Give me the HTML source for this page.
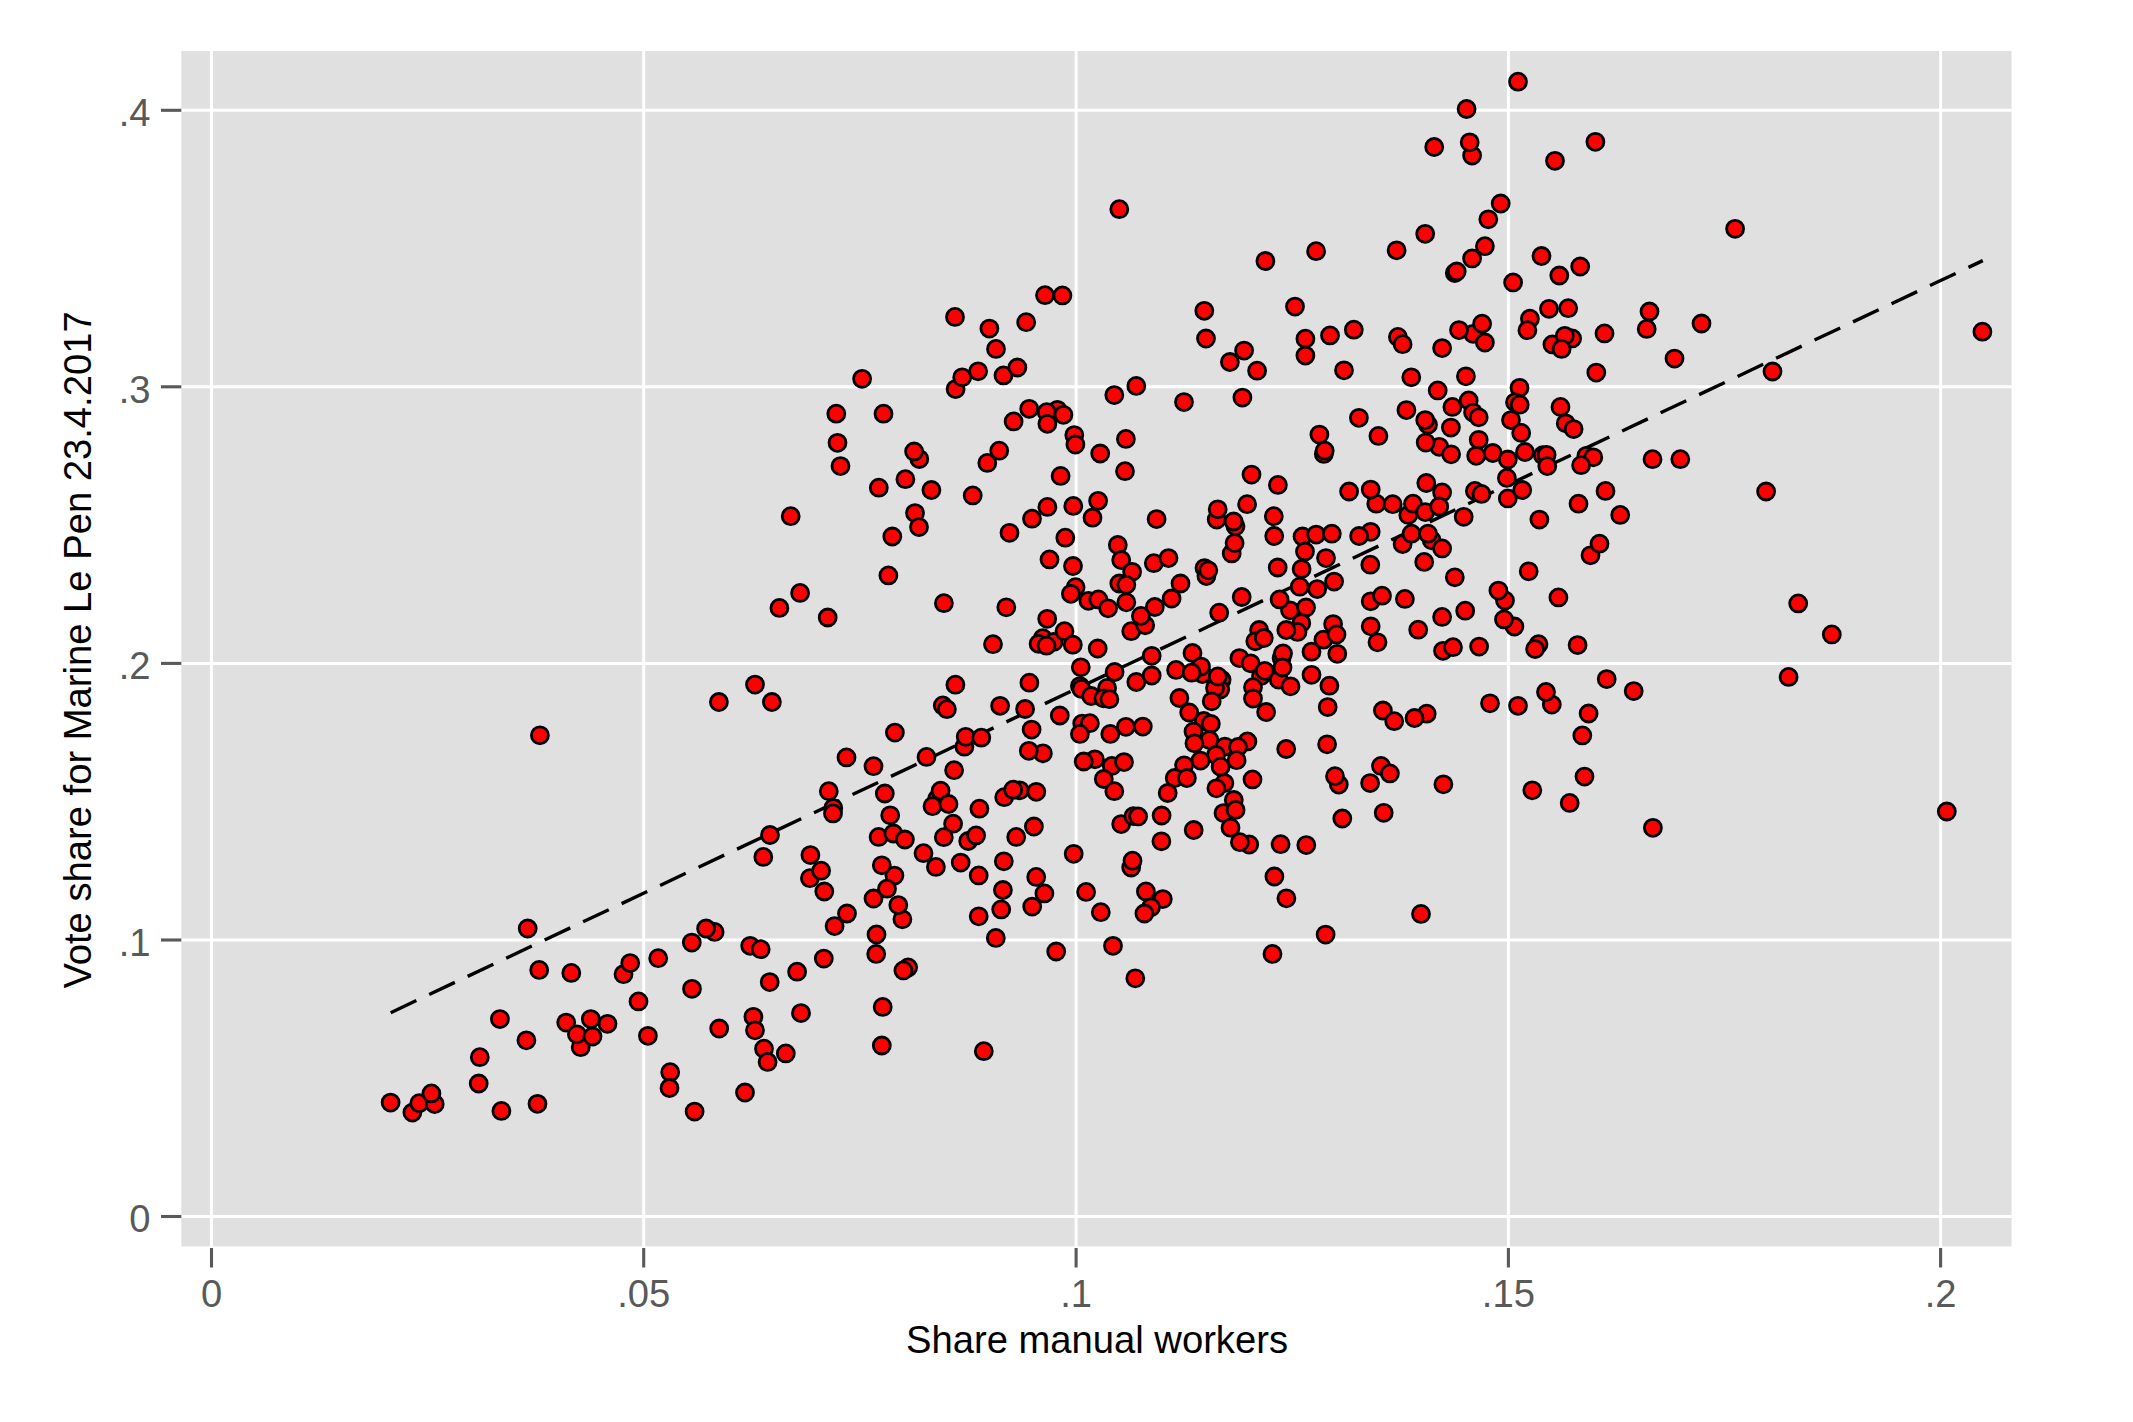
<!DOCTYPE html>
<html><head><meta charset="utf-8"><title>Scatter</title>
<style>html,body{margin:0;padding:0;background:#fff}svg{display:block}text{font-family:"Liberation Sans",Arial,Helvetica,sans-serif}</style></head>
<body>
<svg width="2133" height="1422" viewBox="0 0 2133 1422">
<rect x="0" y="0" width="2133" height="1422" fill="#ffffff"/>
<rect x="181.3" y="51" width="1830.2" height="1195.4" fill="#e0e0e0"/>
<g stroke="#ffffff" stroke-width="3">
<line x1="181.3" y1="1216.5" x2="2011.5" y2="1216.5"/>
<line x1="181.3" y1="940.0" x2="2011.5" y2="940.0"/>
<line x1="181.3" y1="663.4" x2="2011.5" y2="663.4"/>
<line x1="181.3" y1="386.8" x2="2011.5" y2="386.8"/>
<line x1="181.3" y1="110.3" x2="2011.5" y2="110.3"/>
<line x1="211.5" y1="51" x2="211.5" y2="1246.4"/>
<line x1="643.7" y1="51" x2="643.7" y2="1246.4"/>
<line x1="1076.1" y1="51" x2="1076.1" y2="1246.4"/>
<line x1="1508.4" y1="51" x2="1508.4" y2="1246.4"/>
<line x1="1940.6" y1="51" x2="1940.6" y2="1246.4"/>
</g>
<g stroke="#595959" stroke-width="3.1">
<line x1="161" y1="1216.5" x2="181.3" y2="1216.5"/>
<line x1="161" y1="940.0" x2="181.3" y2="940.0"/>
<line x1="161" y1="663.4" x2="181.3" y2="663.4"/>
<line x1="161" y1="386.8" x2="181.3" y2="386.8"/>
<line x1="161" y1="110.3" x2="181.3" y2="110.3"/>
<line x1="211.5" y1="1248" x2="211.5" y2="1267.5"/>
<line x1="643.7" y1="1248" x2="643.7" y2="1267.5"/>
<line x1="1076.1" y1="1248" x2="1076.1" y2="1267.5"/>
<line x1="1508.4" y1="1248" x2="1508.4" y2="1267.5"/>
<line x1="1940.6" y1="1248" x2="1940.6" y2="1267.5"/>
</g>
<g fill="#595959" font-size="38.2px">
<text x="211.5" y="1307" text-anchor="middle">0</text>
<text x="643.7" y="1307" text-anchor="middle">.05</text>
<text x="1076.1" y="1307" text-anchor="middle">.1</text>
<text x="1508.4" y="1307" text-anchor="middle">.15</text>
<text x="1940.6" y="1307" text-anchor="middle">.2</text>
<text x="150.5" y="1232.2" text-anchor="end">0</text>
<text x="150.5" y="955.7" text-anchor="end">.1</text>
<text x="150.5" y="679.1" text-anchor="end">.2</text>
<text x="150.5" y="402.5" text-anchor="end">.3</text>
<text x="150.5" y="126.0" text-anchor="end">.4</text>
</g>
<g fill="#000000" font-size="38.2px">
<text x="1097" y="1353.3" text-anchor="middle">Share manual workers</text>
<text transform="translate(91.4,650) rotate(-90)" text-anchor="middle">Vote share for Marine Le Pen 23.4.2017</text>
</g>
<line x1="390.7" y1="1012.7" x2="1982.8" y2="260.6" stroke="#000" stroke-width="3.4" stroke-dasharray="28.37 14.19"/>
<g fill="#ff0000" stroke="#000000" stroke-width="2.8">
<circle cx="390.6" cy="1102.6" r="8.5"/>
<circle cx="412.4" cy="1112.6" r="8.5"/>
<circle cx="419.3" cy="1103.2" r="8.5"/>
<circle cx="434.7" cy="1104.1" r="8.5"/>
<circle cx="431.4" cy="1093.4" r="8.5"/>
<circle cx="478.7" cy="1083.5" r="8.5"/>
<circle cx="479.8" cy="1057.2" r="8.5"/>
<circle cx="499.9" cy="1019.1" r="8.5"/>
<circle cx="501.4" cy="1110.9" r="8.5"/>
<circle cx="526.4" cy="1040.3" r="8.5"/>
<circle cx="527.7" cy="928.5" r="8.5"/>
<circle cx="537.5" cy="1103.8" r="8.5"/>
<circle cx="539.2" cy="969.9" r="8.5"/>
<circle cx="571.3" cy="972.9" r="8.5"/>
<circle cx="566.2" cy="1022.6" r="8.5"/>
<circle cx="580.7" cy="1047.2" r="8.5"/>
<circle cx="576.9" cy="1034.3" r="8.5"/>
<circle cx="592.5" cy="1036.5" r="8.5"/>
<circle cx="590.8" cy="1019.1" r="8.5"/>
<circle cx="607.5" cy="1023.8" r="8.5"/>
<circle cx="623.5" cy="974.2" r="8.5"/>
<circle cx="630.2" cy="963.1" r="8.5"/>
<circle cx="638.5" cy="1001.4" r="8.5"/>
<circle cx="647.9" cy="1035.8" r="8.5"/>
<circle cx="658.2" cy="958.2" r="8.5"/>
<circle cx="670.2" cy="1072.2" r="8.5"/>
<circle cx="669.5" cy="1088.0" r="8.5"/>
<circle cx="691.8" cy="942.6" r="8.5"/>
<circle cx="692.0" cy="988.8" r="8.5"/>
<circle cx="694.6" cy="1111.6" r="8.5"/>
<circle cx="714.6" cy="931.9" r="8.5"/>
<circle cx="706.1" cy="928.5" r="8.5"/>
<circle cx="719.2" cy="1028.5" r="8.5"/>
<circle cx="745.0" cy="1092.5" r="8.5"/>
<circle cx="750.2" cy="945.8" r="8.5"/>
<circle cx="753.4" cy="1016.8" r="8.5"/>
<circle cx="760.7" cy="949.2" r="8.5"/>
<circle cx="755.0" cy="1030.3" r="8.5"/>
<circle cx="764.0" cy="1048.7" r="8.5"/>
<circle cx="767.6" cy="1061.9" r="8.5"/>
<circle cx="785.8" cy="1053.4" r="8.5"/>
<circle cx="769.7" cy="982.1" r="8.5"/>
<circle cx="797.1" cy="971.7" r="8.5"/>
<circle cx="801.0" cy="1013.1" r="8.5"/>
<circle cx="823.8" cy="958.6" r="8.5"/>
<circle cx="809.9" cy="878.2" r="8.5"/>
<circle cx="821.1" cy="870.7" r="8.5"/>
<circle cx="824.3" cy="891.5" r="8.5"/>
<circle cx="834.6" cy="926.1" r="8.5"/>
<circle cx="847.0" cy="913.5" r="8.5"/>
<circle cx="873.5" cy="898.5" r="8.5"/>
<circle cx="894.4" cy="875.6" r="8.5"/>
<circle cx="887.0" cy="888.7" r="8.5"/>
<circle cx="881.8" cy="865.3" r="8.5"/>
<circle cx="902.4" cy="919.3" r="8.5"/>
<circle cx="898.3" cy="905.1" r="8.5"/>
<circle cx="876.5" cy="934.4" r="8.5"/>
<circle cx="876.2" cy="953.9" r="8.5"/>
<circle cx="908.1" cy="967.4" r="8.5"/>
<circle cx="903.4" cy="970.4" r="8.5"/>
<circle cx="882.7" cy="1006.9" r="8.5"/>
<circle cx="881.8" cy="1045.5" r="8.5"/>
<circle cx="935.9" cy="866.9" r="8.5"/>
<circle cx="978.7" cy="875.4" r="8.5"/>
<circle cx="978.7" cy="916.3" r="8.5"/>
<circle cx="1002.9" cy="890.0" r="8.5"/>
<circle cx="1001.2" cy="909.4" r="8.5"/>
<circle cx="995.8" cy="937.9" r="8.5"/>
<circle cx="983.8" cy="1051.2" r="8.5"/>
<circle cx="1036.2" cy="876.9" r="8.5"/>
<circle cx="1044.4" cy="893.4" r="8.5"/>
<circle cx="1032.2" cy="906.6" r="8.5"/>
<circle cx="1056.2" cy="951.5" r="8.5"/>
<circle cx="1086.1" cy="891.9" r="8.5"/>
<circle cx="1100.8" cy="912.2" r="8.5"/>
<circle cx="1113.0" cy="945.8" r="8.5"/>
<circle cx="1131.2" cy="867.5" r="8.5"/>
<circle cx="1135.3" cy="978.3" r="8.5"/>
<circle cx="1162.8" cy="899.1" r="8.5"/>
<circle cx="1145.9" cy="891.4" r="8.5"/>
<circle cx="1151.0" cy="907.3" r="8.5"/>
<circle cx="1144.4" cy="913.5" r="8.5"/>
<circle cx="1274.4" cy="876.5" r="8.5"/>
<circle cx="1286.4" cy="898.3" r="8.5"/>
<circle cx="1421.0" cy="913.9" r="8.5"/>
<circle cx="1325.6" cy="934.6" r="8.5"/>
<circle cx="1272.5" cy="953.9" r="8.5"/>
<circle cx="539.9" cy="735.3" r="8.5"/>
<circle cx="718.9" cy="702.0" r="8.5"/>
<circle cx="827.7" cy="617.5" r="8.5"/>
<circle cx="1047.2" cy="618.8" r="8.5"/>
<circle cx="1042.7" cy="638.2" r="8.5"/>
<circle cx="1038.6" cy="643.8" r="8.5"/>
<circle cx="1053.6" cy="641.9" r="8.5"/>
<circle cx="1046.5" cy="645.7" r="8.5"/>
<circle cx="1064.5" cy="631.2" r="8.5"/>
<circle cx="1072.8" cy="644.7" r="8.5"/>
<circle cx="993.0" cy="644.2" r="8.5"/>
<circle cx="1097.7" cy="648.5" r="8.5"/>
<circle cx="1131.2" cy="631.2" r="8.5"/>
<circle cx="1080.8" cy="667.3" r="8.5"/>
<circle cx="1114.6" cy="672.0" r="8.5"/>
<circle cx="755.0" cy="684.6" r="8.5"/>
<circle cx="771.9" cy="702.0" r="8.5"/>
<circle cx="955.4" cy="684.7" r="8.5"/>
<circle cx="942.8" cy="705.4" r="8.5"/>
<circle cx="946.9" cy="709.2" r="8.5"/>
<circle cx="1000.1" cy="705.8" r="8.5"/>
<circle cx="1029.4" cy="682.7" r="8.5"/>
<circle cx="1025.1" cy="709.0" r="8.5"/>
<circle cx="1059.8" cy="715.5" r="8.5"/>
<circle cx="1079.9" cy="686.1" r="8.5"/>
<circle cx="1081.4" cy="688.9" r="8.5"/>
<circle cx="1091.2" cy="696.0" r="8.5"/>
<circle cx="1107.1" cy="687.9" r="8.5"/>
<circle cx="1103.4" cy="698.3" r="8.5"/>
<circle cx="1109.4" cy="699.2" r="8.5"/>
<circle cx="894.9" cy="732.6" r="8.5"/>
<circle cx="1031.6" cy="729.6" r="8.5"/>
<circle cx="964.4" cy="746.7" r="8.5"/>
<circle cx="965.7" cy="736.8" r="8.5"/>
<circle cx="981.3" cy="737.7" r="8.5"/>
<circle cx="1082.2" cy="723.6" r="8.5"/>
<circle cx="1089.9" cy="723.2" r="8.5"/>
<circle cx="1079.9" cy="733.9" r="8.5"/>
<circle cx="1110.3" cy="733.9" r="8.5"/>
<circle cx="1125.9" cy="726.8" r="8.5"/>
<circle cx="846.5" cy="757.4" r="8.5"/>
<circle cx="873.5" cy="766.2" r="8.5"/>
<circle cx="926.5" cy="756.9" r="8.5"/>
<circle cx="954.1" cy="770.2" r="8.5"/>
<circle cx="1042.9" cy="753.3" r="8.5"/>
<circle cx="1028.8" cy="750.8" r="8.5"/>
<circle cx="1094.9" cy="759.3" r="8.5"/>
<circle cx="1083.7" cy="761.5" r="8.5"/>
<circle cx="1111.8" cy="765.9" r="8.5"/>
<circle cx="1124.0" cy="762.1" r="8.5"/>
<circle cx="1103.8" cy="779.0" r="8.5"/>
<circle cx="1114.3" cy="791.2" r="8.5"/>
<circle cx="828.8" cy="791.2" r="8.5"/>
<circle cx="884.8" cy="793.5" r="8.5"/>
<circle cx="937.2" cy="798.7" r="8.5"/>
<circle cx="932.5" cy="806.2" r="8.5"/>
<circle cx="940.6" cy="790.7" r="8.5"/>
<circle cx="948.5" cy="804.0" r="8.5"/>
<circle cx="1004.2" cy="797.2" r="8.5"/>
<circle cx="1019.8" cy="790.3" r="8.5"/>
<circle cx="1013.2" cy="789.7" r="8.5"/>
<circle cx="1036.3" cy="791.8" r="8.5"/>
<circle cx="979.4" cy="808.7" r="8.5"/>
<circle cx="833.3" cy="808.1" r="8.5"/>
<circle cx="833.0" cy="813.4" r="8.5"/>
<circle cx="890.2" cy="815.3" r="8.5"/>
<circle cx="953.1" cy="823.7" r="8.5"/>
<circle cx="1033.9" cy="826.5" r="8.5"/>
<circle cx="1121.2" cy="824.1" r="8.5"/>
<circle cx="1133.4" cy="816.2" r="8.5"/>
<circle cx="770.0" cy="835.0" r="8.5"/>
<circle cx="878.6" cy="836.9" r="8.5"/>
<circle cx="893.4" cy="833.5" r="8.5"/>
<circle cx="904.9" cy="839.5" r="8.5"/>
<circle cx="943.8" cy="837.2" r="8.5"/>
<circle cx="968.2" cy="841.0" r="8.5"/>
<circle cx="976.1" cy="835.4" r="8.5"/>
<circle cx="1016.2" cy="836.9" r="8.5"/>
<circle cx="1073.7" cy="853.8" r="8.5"/>
<circle cx="763.3" cy="856.9" r="8.5"/>
<circle cx="810.4" cy="855.1" r="8.5"/>
<circle cx="923.5" cy="853.2" r="8.5"/>
<circle cx="960.7" cy="862.6" r="8.5"/>
<circle cx="1003.8" cy="861.3" r="8.5"/>
<circle cx="1132.5" cy="860.7" r="8.5"/>
<circle cx="1311.5" cy="651.7" r="8.5"/>
<circle cx="1323.4" cy="639.7" r="8.5"/>
<circle cx="1333.1" cy="624.1" r="8.5"/>
<circle cx="1336.5" cy="634.4" r="8.5"/>
<circle cx="1337.3" cy="653.8" r="8.5"/>
<circle cx="1370.7" cy="626.3" r="8.5"/>
<circle cx="1377.5" cy="642.3" r="8.5"/>
<circle cx="1418.2" cy="629.7" r="8.5"/>
<circle cx="1442.1" cy="616.9" r="8.5"/>
<circle cx="1443.0" cy="650.8" r="8.5"/>
<circle cx="1453.0" cy="647.2" r="8.5"/>
<circle cx="1479.1" cy="646.6" r="8.5"/>
<circle cx="1514.4" cy="626.5" r="8.5"/>
<circle cx="1504.0" cy="619.4" r="8.5"/>
<circle cx="1311.5" cy="674.8" r="8.5"/>
<circle cx="1329.4" cy="685.7" r="8.5"/>
<circle cx="1327.7" cy="707.1" r="8.5"/>
<circle cx="1382.9" cy="710.5" r="8.5"/>
<circle cx="1394.2" cy="721.2" r="8.5"/>
<circle cx="1426.7" cy="713.7" r="8.5"/>
<circle cx="1414.5" cy="718.0" r="8.5"/>
<circle cx="1490.0" cy="703.3" r="8.5"/>
<circle cx="1327.1" cy="744.3" r="8.5"/>
<circle cx="1286.2" cy="749.0" r="8.5"/>
<circle cx="1381.0" cy="765.9" r="8.5"/>
<circle cx="1389.9" cy="773.4" r="8.5"/>
<circle cx="1338.8" cy="784.6" r="8.5"/>
<circle cx="1335.0" cy="776.2" r="8.5"/>
<circle cx="1370.1" cy="783.1" r="8.5"/>
<circle cx="1443.4" cy="784.3" r="8.5"/>
<circle cx="1342.3" cy="818.5" r="8.5"/>
<circle cx="1383.7" cy="812.8" r="8.5"/>
<circle cx="1306.3" cy="845.1" r="8.5"/>
<circle cx="1280.6" cy="844.2" r="8.5"/>
<circle cx="1154.8" cy="607.0" r="8.5"/>
<circle cx="1145.2" cy="625.3" r="8.5"/>
<circle cx="1140.9" cy="615.9" r="8.5"/>
<circle cx="1219.2" cy="612.7" r="8.5"/>
<circle cx="1290.0" cy="610.3" r="8.5"/>
<circle cx="1306.0" cy="607.5" r="8.5"/>
<circle cx="1301.3" cy="623.0" r="8.5"/>
<circle cx="1297.5" cy="631.9" r="8.5"/>
<circle cx="1286.3" cy="630.0" r="8.5"/>
<circle cx="1259.1" cy="630.0" r="8.5"/>
<circle cx="1255.3" cy="641.3" r="8.5"/>
<circle cx="1263.8" cy="638.0" r="8.5"/>
<circle cx="1151.7" cy="655.8" r="8.5"/>
<circle cx="1192.5" cy="653.0" r="8.5"/>
<circle cx="1202.4" cy="674.1" r="8.5"/>
<circle cx="1201.0" cy="666.6" r="8.5"/>
<circle cx="1176.1" cy="669.9" r="8.5"/>
<circle cx="1191.6" cy="672.7" r="8.5"/>
<circle cx="1221.6" cy="679.7" r="8.5"/>
<circle cx="1220.2" cy="689.5" r="8.5"/>
<circle cx="1215.0" cy="688.1" r="8.5"/>
<circle cx="1217.8" cy="676.4" r="8.5"/>
<circle cx="1211.7" cy="701.3" r="8.5"/>
<circle cx="1239.4" cy="658.1" r="8.5"/>
<circle cx="1250.6" cy="663.3" r="8.5"/>
<circle cx="1261.0" cy="675.9" r="8.5"/>
<circle cx="1264.7" cy="670.8" r="8.5"/>
<circle cx="1281.6" cy="658.1" r="8.5"/>
<circle cx="1283.0" cy="653.4" r="8.5"/>
<circle cx="1278.8" cy="679.7" r="8.5"/>
<circle cx="1282.5" cy="667.5" r="8.5"/>
<circle cx="1290.5" cy="686.3" r="8.5"/>
<circle cx="1253.0" cy="687.2" r="8.5"/>
<circle cx="1253.0" cy="698.5" r="8.5"/>
<circle cx="1266.1" cy="712.0" r="8.5"/>
<circle cx="1179.4" cy="698.0" r="8.5"/>
<circle cx="1189.2" cy="712.5" r="8.5"/>
<circle cx="1203.8" cy="721.0" r="8.5"/>
<circle cx="1210.8" cy="723.8" r="8.5"/>
<circle cx="1142.8" cy="726.6" r="8.5"/>
<circle cx="1136.3" cy="682.0" r="8.5"/>
<circle cx="1151.7" cy="675.5" r="8.5"/>
<circle cx="1193.5" cy="731.6" r="8.5"/>
<circle cx="1209.4" cy="740.0" r="8.5"/>
<circle cx="1194.4" cy="743.3" r="8.5"/>
<circle cx="1224.9" cy="746.6" r="8.5"/>
<circle cx="1247.4" cy="741.4" r="8.5"/>
<circle cx="1238.0" cy="747.0" r="8.5"/>
<circle cx="1216.0" cy="755.0" r="8.5"/>
<circle cx="1200.5" cy="760.6" r="8.5"/>
<circle cx="1236.6" cy="760.2" r="8.5"/>
<circle cx="1220.6" cy="766.7" r="8.5"/>
<circle cx="1184.1" cy="765.3" r="8.5"/>
<circle cx="1174.7" cy="778.0" r="8.5"/>
<circle cx="1186.9" cy="778.0" r="8.5"/>
<circle cx="1167.7" cy="793.0" r="8.5"/>
<circle cx="1224.4" cy="783.1" r="8.5"/>
<circle cx="1216.4" cy="788.3" r="8.5"/>
<circle cx="1252.5" cy="779.4" r="8.5"/>
<circle cx="1233.8" cy="800.0" r="8.5"/>
<circle cx="1223.5" cy="813.1" r="8.5"/>
<circle cx="1235.6" cy="809.9" r="8.5"/>
<circle cx="1230.5" cy="827.7" r="8.5"/>
<circle cx="1249.2" cy="844.5" r="8.5"/>
<circle cx="1239.9" cy="842.2" r="8.5"/>
<circle cx="1161.6" cy="815.5" r="8.5"/>
<circle cx="1138.1" cy="816.4" r="8.5"/>
<circle cx="1161.4" cy="841.3" r="8.5"/>
<circle cx="1193.7" cy="830.0" r="8.5"/>
<circle cx="1538.5" cy="644.2" r="8.5"/>
<circle cx="1535.1" cy="649.1" r="8.5"/>
<circle cx="1577.6" cy="645.1" r="8.5"/>
<circle cx="1831.8" cy="634.4" r="8.5"/>
<circle cx="1788.6" cy="676.9" r="8.5"/>
<circle cx="1606.7" cy="679.1" r="8.5"/>
<circle cx="1633.7" cy="691.1" r="8.5"/>
<circle cx="1551.8" cy="704.6" r="8.5"/>
<circle cx="1546.0" cy="691.9" r="8.5"/>
<circle cx="1518.0" cy="705.8" r="8.5"/>
<circle cx="1588.6" cy="713.5" r="8.5"/>
<circle cx="1582.3" cy="735.4" r="8.5"/>
<circle cx="1584.5" cy="776.6" r="8.5"/>
<circle cx="1532.3" cy="790.3" r="8.5"/>
<circle cx="1569.7" cy="802.9" r="8.5"/>
<circle cx="1652.9" cy="827.8" r="8.5"/>
<circle cx="1735.1" cy="228.8" r="8.5"/>
<circle cx="1649.5" cy="311.5" r="8.5"/>
<circle cx="1646.7" cy="328.9" r="8.5"/>
<circle cx="1701.5" cy="323.5" r="8.5"/>
<circle cx="1674.5" cy="358.6" r="8.5"/>
<circle cx="1772.5" cy="371.5" r="8.5"/>
<circle cx="1982.4" cy="331.7" r="8.5"/>
<circle cx="1652.5" cy="459.2" r="8.5"/>
<circle cx="1680.3" cy="459.2" r="8.5"/>
<circle cx="1766.1" cy="491.5" r="8.5"/>
<circle cx="1798.2" cy="603.4" r="8.5"/>
<circle cx="1946.8" cy="811.5" r="8.5"/>
<circle cx="862.1" cy="378.8" r="8.5"/>
<circle cx="955.6" cy="389.1" r="8.5"/>
<circle cx="962.2" cy="377.3" r="8.5"/>
<circle cx="978.1" cy="371.3" r="8.5"/>
<circle cx="1003.5" cy="375.4" r="8.5"/>
<circle cx="1017.4" cy="367.5" r="8.5"/>
<circle cx="1114.3" cy="395.1" r="8.5"/>
<circle cx="836.3" cy="413.7" r="8.5"/>
<circle cx="883.5" cy="413.7" r="8.5"/>
<circle cx="1029.2" cy="408.8" r="8.5"/>
<circle cx="1057.4" cy="409.8" r="8.5"/>
<circle cx="1046.7" cy="412.2" r="8.5"/>
<circle cx="1063.4" cy="414.8" r="8.5"/>
<circle cx="1047.4" cy="423.8" r="8.5"/>
<circle cx="1013.6" cy="421.4" r="8.5"/>
<circle cx="1074.3" cy="435.1" r="8.5"/>
<circle cx="1075.4" cy="444.5" r="8.5"/>
<circle cx="1125.9" cy="438.9" r="8.5"/>
<circle cx="1100.2" cy="453.5" r="8.5"/>
<circle cx="837.5" cy="442.8" r="8.5"/>
<circle cx="919.3" cy="459.0" r="8.5"/>
<circle cx="914.1" cy="451.5" r="8.5"/>
<circle cx="987.3" cy="462.9" r="8.5"/>
<circle cx="999.2" cy="450.7" r="8.5"/>
<circle cx="840.5" cy="466.1" r="8.5"/>
<circle cx="1125.0" cy="471.2" r="8.5"/>
<circle cx="1060.6" cy="475.9" r="8.5"/>
<circle cx="905.4" cy="479.2" r="8.5"/>
<circle cx="878.8" cy="487.7" r="8.5"/>
<circle cx="931.4" cy="490.0" r="8.5"/>
<circle cx="972.7" cy="495.4" r="8.5"/>
<circle cx="1098.1" cy="500.8" r="8.5"/>
<circle cx="1047.4" cy="506.9" r="8.5"/>
<circle cx="1073.3" cy="505.9" r="8.5"/>
<circle cx="1032.0" cy="518.7" r="8.5"/>
<circle cx="1092.5" cy="517.7" r="8.5"/>
<circle cx="790.7" cy="516.2" r="8.5"/>
<circle cx="915.0" cy="513.1" r="8.5"/>
<circle cx="919.0" cy="527.1" r="8.5"/>
<circle cx="892.3" cy="536.5" r="8.5"/>
<circle cx="1009.5" cy="532.8" r="8.5"/>
<circle cx="1065.3" cy="537.7" r="8.5"/>
<circle cx="1117.8" cy="545.0" r="8.5"/>
<circle cx="1121.2" cy="560.0" r="8.5"/>
<circle cx="1132.1" cy="571.8" r="8.5"/>
<circle cx="1049.5" cy="559.4" r="8.5"/>
<circle cx="1073.0" cy="566.0" r="8.5"/>
<circle cx="888.4" cy="575.4" r="8.5"/>
<circle cx="1119.3" cy="583.5" r="8.5"/>
<circle cx="1126.3" cy="584.8" r="8.5"/>
<circle cx="1075.6" cy="587.2" r="8.5"/>
<circle cx="1070.9" cy="593.8" r="8.5"/>
<circle cx="1088.4" cy="600.8" r="8.5"/>
<circle cx="1098.3" cy="599.4" r="8.5"/>
<circle cx="1108.1" cy="608.3" r="8.5"/>
<circle cx="1126.3" cy="602.3" r="8.5"/>
<circle cx="800.1" cy="592.9" r="8.5"/>
<circle cx="779.4" cy="607.9" r="8.5"/>
<circle cx="943.9" cy="603.2" r="8.5"/>
<circle cx="1006.3" cy="607.3" r="8.5"/>
<circle cx="1257.1" cy="370.7" r="8.5"/>
<circle cx="1344.0" cy="370.3" r="8.5"/>
<circle cx="1411.3" cy="377.3" r="8.5"/>
<circle cx="1465.9" cy="376.3" r="8.5"/>
<circle cx="1136.3" cy="385.9" r="8.5"/>
<circle cx="1184.0" cy="402.1" r="8.5"/>
<circle cx="1242.4" cy="397.6" r="8.5"/>
<circle cx="1437.7" cy="390.4" r="8.5"/>
<circle cx="1468.7" cy="400.4" r="8.5"/>
<circle cx="1452.4" cy="406.9" r="8.5"/>
<circle cx="1473.1" cy="412.6" r="8.5"/>
<circle cx="1478.7" cy="417.3" r="8.5"/>
<circle cx="1406.4" cy="410.1" r="8.5"/>
<circle cx="1358.9" cy="417.8" r="8.5"/>
<circle cx="1428.0" cy="424.8" r="8.5"/>
<circle cx="1425.2" cy="420.1" r="8.5"/>
<circle cx="1450.9" cy="427.6" r="8.5"/>
<circle cx="1511.0" cy="420.1" r="8.5"/>
<circle cx="1319.4" cy="434.6" r="8.5"/>
<circle cx="1323.8" cy="453.9" r="8.5"/>
<circle cx="1324.7" cy="450.7" r="8.5"/>
<circle cx="1378.4" cy="435.9" r="8.5"/>
<circle cx="1439.2" cy="446.8" r="8.5"/>
<circle cx="1425.7" cy="442.6" r="8.5"/>
<circle cx="1451.1" cy="454.3" r="8.5"/>
<circle cx="1478.7" cy="439.8" r="8.5"/>
<circle cx="1492.8" cy="453.0" r="8.5"/>
<circle cx="1476.2" cy="455.8" r="8.5"/>
<circle cx="1507.8" cy="459.5" r="8.5"/>
<circle cx="1251.5" cy="474.6" r="8.5"/>
<circle cx="1277.9" cy="484.9" r="8.5"/>
<circle cx="1426.3" cy="483.0" r="8.5"/>
<circle cx="1506.9" cy="477.9" r="8.5"/>
<circle cx="1349.1" cy="491.5" r="8.5"/>
<circle cx="1376.3" cy="503.7" r="8.5"/>
<circle cx="1370.7" cy="489.6" r="8.5"/>
<circle cx="1392.7" cy="504.2" r="8.5"/>
<circle cx="1442.1" cy="492.4" r="8.5"/>
<circle cx="1408.3" cy="514.9" r="8.5"/>
<circle cx="1413.0" cy="503.7" r="8.5"/>
<circle cx="1425.2" cy="512.1" r="8.5"/>
<circle cx="1439.2" cy="506.5" r="8.5"/>
<circle cx="1474.9" cy="490.9" r="8.5"/>
<circle cx="1481.5" cy="493.9" r="8.5"/>
<circle cx="1507.8" cy="498.4" r="8.5"/>
<circle cx="1463.7" cy="516.8" r="8.5"/>
<circle cx="1247.1" cy="504.2" r="8.5"/>
<circle cx="1216.7" cy="519.6" r="8.5"/>
<circle cx="1217.7" cy="509.3" r="8.5"/>
<circle cx="1235.5" cy="526.2" r="8.5"/>
<circle cx="1233.6" cy="521.5" r="8.5"/>
<circle cx="1273.8" cy="516.2" r="8.5"/>
<circle cx="1156.6" cy="519.1" r="8.5"/>
<circle cx="1274.2" cy="536.0" r="8.5"/>
<circle cx="1302.5" cy="536.5" r="8.5"/>
<circle cx="1316.2" cy="534.6" r="8.5"/>
<circle cx="1331.8" cy="533.7" r="8.5"/>
<circle cx="1370.7" cy="531.8" r="8.5"/>
<circle cx="1359.1" cy="536.0" r="8.5"/>
<circle cx="1402.6" cy="544.0" r="8.5"/>
<circle cx="1411.5" cy="533.7" r="8.5"/>
<circle cx="1431.7" cy="540.3" r="8.5"/>
<circle cx="1428.0" cy="533.7" r="8.5"/>
<circle cx="1442.1" cy="548.4" r="8.5"/>
<circle cx="1231.7" cy="553.4" r="8.5"/>
<circle cx="1234.6" cy="543.1" r="8.5"/>
<circle cx="1305.0" cy="551.5" r="8.5"/>
<circle cx="1326.0" cy="558.1" r="8.5"/>
<circle cx="1370.3" cy="564.7" r="8.5"/>
<circle cx="1424.2" cy="561.9" r="8.5"/>
<circle cx="1153.8" cy="563.2" r="8.5"/>
<circle cx="1168.5" cy="558.1" r="8.5"/>
<circle cx="1204.5" cy="568.1" r="8.5"/>
<circle cx="1206.4" cy="576.0" r="8.5"/>
<circle cx="1208.3" cy="570.3" r="8.5"/>
<circle cx="1277.7" cy="567.5" r="8.5"/>
<circle cx="1301.6" cy="569.0" r="8.5"/>
<circle cx="1334.1" cy="581.6" r="8.5"/>
<circle cx="1317.2" cy="589.1" r="8.5"/>
<circle cx="1299.7" cy="586.7" r="8.5"/>
<circle cx="1180.5" cy="583.5" r="8.5"/>
<circle cx="1171.6" cy="598.5" r="8.5"/>
<circle cx="1241.7" cy="597.0" r="8.5"/>
<circle cx="1279.6" cy="599.4" r="8.5"/>
<circle cx="1370.7" cy="601.3" r="8.5"/>
<circle cx="1382.0" cy="595.7" r="8.5"/>
<circle cx="1404.9" cy="598.9" r="8.5"/>
<circle cx="1454.8" cy="577.3" r="8.5"/>
<circle cx="1505.0" cy="600.4" r="8.5"/>
<circle cx="1498.4" cy="590.6" r="8.5"/>
<circle cx="1465.2" cy="610.7" r="8.5"/>
<circle cx="1596.3" cy="372.6" r="8.5"/>
<circle cx="1519.5" cy="387.8" r="8.5"/>
<circle cx="1515.0" cy="402.3" r="8.5"/>
<circle cx="1519.7" cy="404.7" r="8.5"/>
<circle cx="1560.5" cy="406.9" r="8.5"/>
<circle cx="1565.7" cy="423.3" r="8.5"/>
<circle cx="1573.6" cy="429.1" r="8.5"/>
<circle cx="1521.2" cy="432.9" r="8.5"/>
<circle cx="1525.0" cy="452.0" r="8.5"/>
<circle cx="1542.8" cy="455.2" r="8.5"/>
<circle cx="1546.6" cy="454.8" r="8.5"/>
<circle cx="1547.3" cy="466.1" r="8.5"/>
<circle cx="1586.4" cy="455.8" r="8.5"/>
<circle cx="1593.3" cy="457.3" r="8.5"/>
<circle cx="1581.1" cy="465.2" r="8.5"/>
<circle cx="1522.2" cy="490.0" r="8.5"/>
<circle cx="1605.5" cy="490.9" r="8.5"/>
<circle cx="1578.5" cy="503.7" r="8.5"/>
<circle cx="1620.2" cy="514.9" r="8.5"/>
<circle cx="1539.4" cy="519.6" r="8.5"/>
<circle cx="1590.5" cy="555.3" r="8.5"/>
<circle cx="1599.5" cy="543.7" r="8.5"/>
<circle cx="1528.7" cy="571.3" r="8.5"/>
<circle cx="1558.4" cy="597.4" r="8.5"/>
<circle cx="1119.3" cy="209.2" r="8.5"/>
<circle cx="1045.0" cy="295.2" r="8.5"/>
<circle cx="1062.4" cy="295.4" r="8.5"/>
<circle cx="955.0" cy="316.9" r="8.5"/>
<circle cx="1026.2" cy="322.2" r="8.5"/>
<circle cx="989.4" cy="328.6" r="8.5"/>
<circle cx="996.0" cy="348.9" r="8.5"/>
<circle cx="1434.2" cy="147.0" r="8.5"/>
<circle cx="1472.1" cy="155.6" r="8.5"/>
<circle cx="1469.7" cy="142.3" r="8.5"/>
<circle cx="1500.7" cy="203.5" r="8.5"/>
<circle cx="1488.3" cy="219.3" r="8.5"/>
<circle cx="1425.2" cy="233.8" r="8.5"/>
<circle cx="1396.6" cy="250.3" r="8.5"/>
<circle cx="1484.9" cy="246.2" r="8.5"/>
<circle cx="1472.1" cy="258.4" r="8.5"/>
<circle cx="1454.8" cy="273.0" r="8.5"/>
<circle cx="1456.7" cy="271.5" r="8.5"/>
<circle cx="1513.1" cy="282.4" r="8.5"/>
<circle cx="1316.1" cy="251.2" r="8.5"/>
<circle cx="1265.4" cy="261.0" r="8.5"/>
<circle cx="1295.0" cy="306.6" r="8.5"/>
<circle cx="1204.3" cy="310.8" r="8.5"/>
<circle cx="1206.0" cy="338.5" r="8.5"/>
<circle cx="1353.8" cy="329.7" r="8.5"/>
<circle cx="1330.0" cy="335.4" r="8.5"/>
<circle cx="1305.4" cy="338.7" r="8.5"/>
<circle cx="1305.4" cy="355.6" r="8.5"/>
<circle cx="1397.9" cy="336.9" r="8.5"/>
<circle cx="1402.6" cy="344.2" r="8.5"/>
<circle cx="1473.1" cy="333.8" r="8.5"/>
<circle cx="1459.0" cy="330.1" r="8.5"/>
<circle cx="1482.1" cy="323.7" r="8.5"/>
<circle cx="1484.9" cy="342.5" r="8.5"/>
<circle cx="1442.1" cy="348.1" r="8.5"/>
<circle cx="1229.9" cy="362.0" r="8.5"/>
<circle cx="1244.1" cy="350.6" r="8.5"/>
<circle cx="1518.0" cy="81.7" r="8.5"/>
<circle cx="1466.6" cy="109.0" r="8.5"/>
<circle cx="1595.4" cy="141.8" r="8.5"/>
<circle cx="1555.0" cy="160.8" r="8.5"/>
<circle cx="1541.5" cy="256.0" r="8.5"/>
<circle cx="1580.2" cy="266.5" r="8.5"/>
<circle cx="1559.3" cy="275.5" r="8.5"/>
<circle cx="1549.0" cy="308.8" r="8.5"/>
<circle cx="1568.2" cy="308.2" r="8.5"/>
<circle cx="1529.9" cy="318.7" r="8.5"/>
<circle cx="1527.4" cy="330.2" r="8.5"/>
<circle cx="1572.1" cy="338.4" r="8.5"/>
<circle cx="1552.4" cy="344.4" r="8.5"/>
<circle cx="1564.8" cy="335.8" r="8.5"/>
<circle cx="1561.6" cy="348.9" r="8.5"/>
<circle cx="1604.5" cy="333.4" r="8.5"/>
</g>
</svg>
</body></html>
